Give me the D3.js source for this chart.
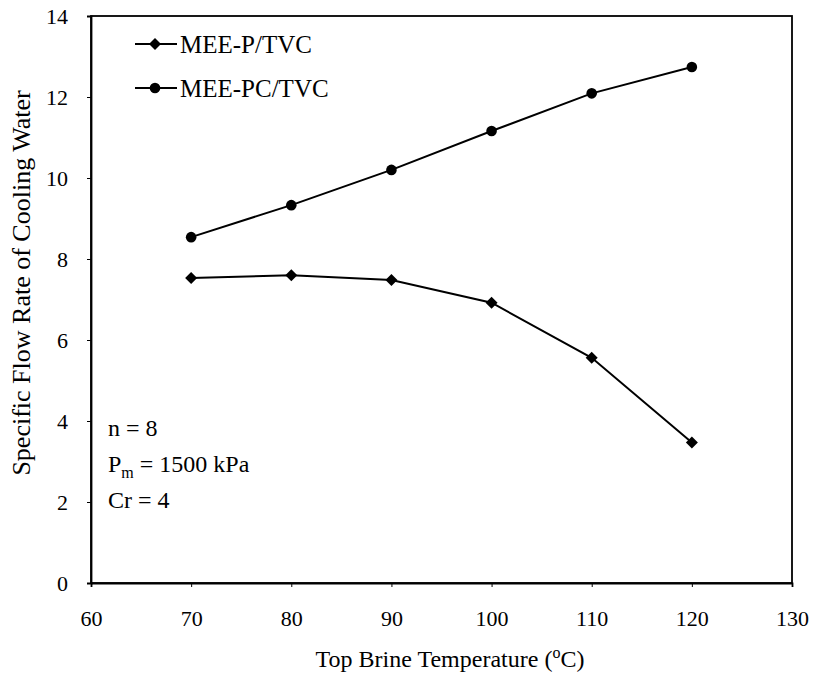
<!DOCTYPE html>
<html>
<head>
<meta charset="utf-8">
<script src="https://cdn.jsdelivr.net/npm/d3@7"></script>
<style>
  body { margin: 0; background: #fff; }
  text { font-family: "Liberation Serif", "Times New Roman", serif; fill: #000; }
</style>
</head>
<body>
<svg id="chart" width="815" height="683"></svg>
<script>
// data
const temps = [70, 80, 90, 100, 110, 120];
const meeP = [7.53, 7.6, 7.48, 6.92, 5.56, 3.47];
const meePC = [8.54, 9.33, 10.2, 11.16, 12.09, 12.74];
const xTicks = [60, 70, 80, 90, 100, 110, 120, 130];
const yTicks = [0, 2, 4, 6, 8, 10, 12, 14];

const svg = d3.select("#chart");
const margin = { top: 16, right: 23, bottom: 100, left: 91 };
const width = +svg.attr("width");
const height = +svg.attr("height");
const serif = "'Liberation Serif', 'Times New Roman', serif";

const x = d3.scaleLinear().domain([60, 130]).range([margin.left, width - margin.right]);
const y = d3.scaleLinear().domain([0, 14]).range([height - margin.bottom, margin.top]);

// frame
svg.append("rect")
  .attr("x", x(60)).attr("y", y(14))
  .attr("width", x(130) - x(60)).attr("height", y(0) - y(14))
  .attr("fill", "none").attr("stroke", "#000").attr("stroke-width", 1.8);

// axes
const xAxis = svg.append("g")
  .attr("transform", `translate(0,${y(0)})`)
  .call(d3.axisBottom(x).tickValues(xTicks).tickSize(4).tickPadding(23).tickFormat(d3.format("d")));
const yAxis = svg.append("g")
  .attr("transform", `translate(${x(60)},0)`)
  .call(d3.axisLeft(y).tickValues(yTicks).tickSize(4).tickPadding(19).tickFormat(d3.format("d")));
[xAxis, yAxis].forEach(g => {
  g.select(".domain").attr("stroke-width", 1.8);
  g.selectAll("line").attr("stroke-width", 1);
  g.selectAll("text").style("font-family", serif).style("font-size", "22px");
});

// lines
const line = d3.line().x((d, i) => x(temps[i])).y(d => y(d));
svg.append("path").datum(meeP).attr("d", line)
  .attr("fill", "none").attr("stroke", "#000").attr("stroke-width", 2);
svg.append("path").datum(meePC).attr("d", line)
  .attr("fill", "none").attr("stroke", "#000").attr("stroke-width", 2);

// square rotated 45deg gives the wide diamond marker
const diamond = d3.symbol().type(d3.symbolSquare).size(72);
svg.selectAll(".pt-p").data(meeP).enter().append("path")
  .attr("transform", (d, i) => `translate(${x(temps[i])},${y(d)}) rotate(45)`)
  .attr("d", diamond).attr("fill", "#000");
svg.selectAll(".pt-pc").data(meePC).enter().append("circle")
  .attr("cx", (d, i) => x(temps[i])).attr("cy", d => y(d))
  .attr("r", 5.3).attr("fill", "#000");

// legend
const legend = [
  { name: "MEE-P/TVC", shape: "diamond", y: 44 },
  { name: "MEE-PC/TVC", shape: "circle", y: 88 }
];
legend.forEach(l => {
  const g = svg.append("g");
  g.append("line").attr("x1", 135).attr("x2", 177).attr("y1", l.y).attr("y2", l.y)
    .attr("stroke", "#000").attr("stroke-width", 2);
  if (l.shape === "diamond") {
    g.append("path").attr("transform", `translate(155,${l.y}) rotate(45)`).attr("d", diamond).attr("fill", "#000");
  } else {
    g.append("circle").attr("cx", 155).attr("cy", l.y).attr("r", 5.3).attr("fill", "#000");
  }
  g.append("text").attr("x", 180).attr("y", l.y + 9).style("font-size", "25px").text(l.name);
});

// annotations
svg.append("text").attr("x", 108).attr("y", 436).style("font-size", "24px").text("n = 8");
const pm = svg.append("text").attr("x", 108).attr("y", 472).style("font-size", "24px");
pm.append("tspan").text("P");
pm.append("tspan").attr("dy", 6).style("font-size", "16px").text("m");
pm.append("tspan").attr("dy", -6).text(" = 1500 kPa");
svg.append("text").attr("x", 108).attr("y", 508).style("font-size", "24px").text("Cr = 4");

// axis titles
const xt = svg.append("text").attr("x", 450).attr("y", 667).attr("text-anchor", "middle").style("font-size", "24px");
xt.append("tspan").text("Top Brine Temperature (");
xt.append("tspan").attr("dy", -9).style("font-size", "16px").text("o");
xt.append("tspan").attr("dy", 9).text("C)");

svg.append("text")
  .attr("transform", `translate(30,283) rotate(-90)`)
  .attr("text-anchor", "middle").style("font-size", "26px")
  .text("Specific Flow Rate of Cooling Water");
</script>
</body>
</html>
